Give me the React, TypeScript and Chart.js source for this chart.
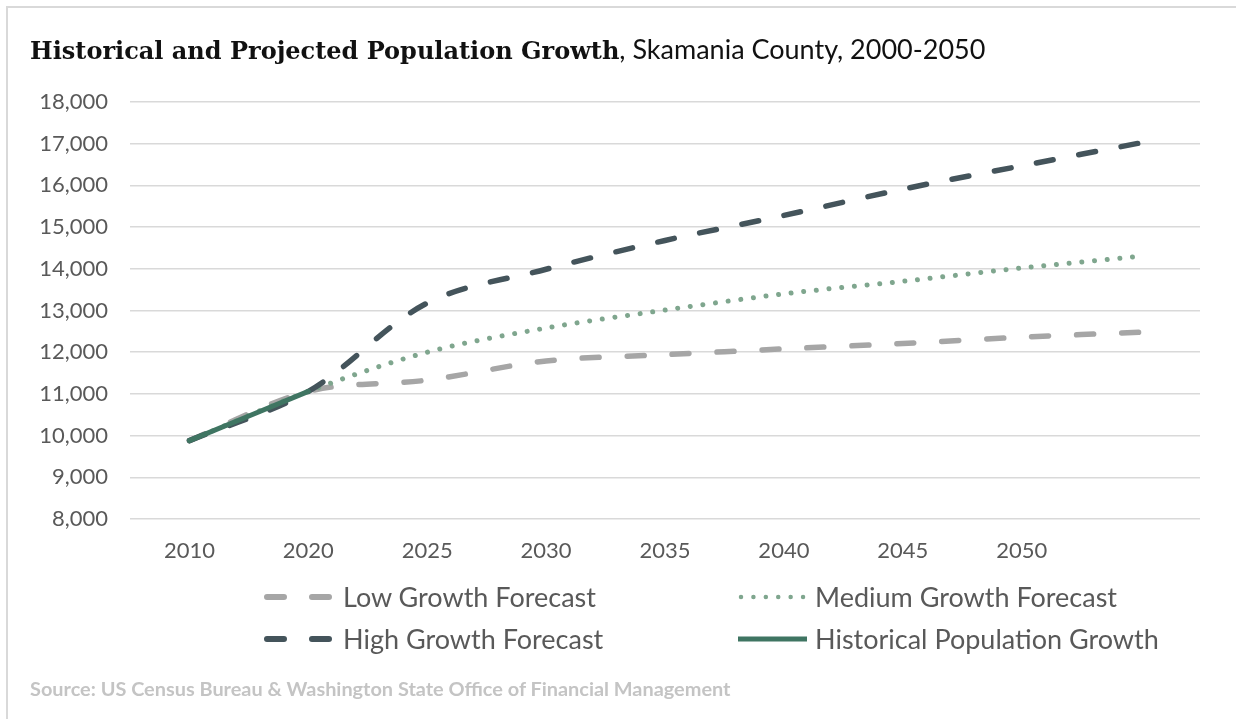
import React, { useEffect, useRef } from "react";
import { Chart, registerables } from "chart.js";

Chart.register(...registerables);

// ---- data ----
const categories = ["2010", "2020", "2025", "2030", "2035", "2040", "2045", "2050", ""];
const lowGrowth = [9880, 11060, 11330, 11790, 11940, 12080, 12210, 12360, 12480];
const mediumGrowth = [9880, 11060, 12000, 12580, 13010, 13400, 13700, 14020, 14300];
const highGrowth = [9880, 11060, 13180, 13990, 14680, 15280, 15910, 16470, 17020];
const historicalGrowth = [9880, 11060, null, null, null, null, null, null, null];
const yMin = 8000;
const yMax = 18000;
const yStep = 1000;

const seriesNames = [
  "Low Growth Forecast",
  "Medium Growth Forecast",
  "High Growth Forecast",
  "Historical Population Growth",
];

const COLORS = {
  low: "#a6a6a6",
  medium: "#7fa68e",
  high: "#44545b",
  hist: "#3f7562",
  text: "#595959",
  grid: "#d9d9d9",
};

const SANS = "Lato, 'Open Sans', sans-serif";

function LegendSymbol({ kind }: { kind: string }) {
  const w = 74;
  const h = 12;
  if (kind === "low" || kind === "high") {
    const c = kind === "low" ? COLORS.low : COLORS.high;
    return (
      <svg width={w} height={h} style={{ display: "block" }}>
        <line x1={4} y1={6} x2={70} y2={6} stroke={c} strokeWidth={6} strokeLinecap="round" strokeDasharray="17 28" />
      </svg>
    );
  }
  if (kind === "medium") {
    return (
      <svg width={w} height={h} style={{ display: "block" }}>
        <line x1={6} y1={6} x2={70} y2={6} stroke={COLORS.medium} strokeWidth={4.5} strokeLinecap="round" strokeDasharray="0.01 12.4" />
      </svg>
    );
  }
  return (
    <svg width={w} height={h} style={{ display: "block" }}>
      <line x1={3} y1={6} x2={72} y2={6} stroke={COLORS.hist} strokeWidth={5} />
    </svg>
  );
}

export default function App() {
  const canvasRef = useRef<HTMLCanvasElement | null>(null);

  useEffect(() => {
    const canvas = canvasRef.current;
    if (!canvas) return;
    const chart = new Chart(canvas, {
      type: "line",
      data: {
        labels: categories,
        datasets: [
          {
            label: seriesNames[3],
            data: historicalGrowth,
            borderColor: COLORS.hist,
            borderWidth: 5,
            pointRadius: 0,
            tension: 0.33,
            borderCapStyle: "round",
            order: 0,
          },
          {
            label: seriesNames[2],
            data: highGrowth,
            borderColor: COLORS.high,
            borderWidth: 5.5,
            borderDash: [17, 26],
            borderCapStyle: "round",
            pointRadius: 0,
            tension: 0.33,
            order: 1,
          },
          {
            label: seriesNames[1],
            data: mediumGrowth,
            borderColor: COLORS.medium,
            borderWidth: 5,
            borderDash: [0.01, 12.7],
            borderCapStyle: "round",
            pointRadius: 0,
            tension: 0.33,
            order: 2,
          },
          {
            label: seriesNames[0],
            data: lowGrowth,
            borderColor: COLORS.low,
            borderWidth: 5.5,
            borderDash: [17, 28],
            borderCapStyle: "round",
            pointRadius: 0,
            tension: 0.33,
            order: 3,
          },
        ],
      },
      options: {
        responsive: false,
        animation: false,
        devicePixelRatio: 1,
        layout: { padding: { left: 0, right: 36, top: 102, bottom: 140 } },
        plugins: {
          legend: { display: false },
          title: { display: false },
          tooltip: { enabled: false },
        },
        scales: {
          x: {
            type: "category",
            offset: true,
            grid: { display: false, drawTicks: false },
            border: { display: false },
            ticks: {
              color: COLORS.text,
              font: { family: SANS, size: 22 },
              padding: 19,
              maxRotation: 0,
              autoSkip: false,
            },
            afterFit: (scale: any) => {
              scale.height = 60;
            },
          },
          y: {
            min: yMin,
            max: yMax,
            grid: { color: COLORS.grid, lineWidth: 1.5, drawTicks: false },
            border: { display: false },
            ticks: {
              stepSize: yStep,
              color: COLORS.text,
              font: { family: SANS, size: 22 },
              padding: 22,
              callback: (v: any) => Number(v).toLocaleString("en-US"),
            },
            afterFit: (scale: any) => {
              scale.width = 130;
            },
          },
        },
      },
    });
    return () => chart.destroy();
  }, []);

  const legendText: React.CSSProperties = {
    position: "absolute",
    fontFamily: SANS,
    fontSize: 27,
    lineHeight: "27px",
    color: COLORS.text,
    whiteSpace: "nowrap",
  };

  const legendItems = [
    { kind: "low", name: seriesNames[0], x: 263, y: 597 },
    { kind: "medium", name: seriesNames[1], x: 735, y: 597 },
    { kind: "high", name: seriesNames[2], x: 263, y: 639 },
    { kind: "hist", name: seriesNames[3], x: 735, y: 639 },
  ];

  return (
    <div
      style={{
        position: "absolute",
        left: 0,
        top: 0,
        width: 1236,
        height: 719,
        overflow: "hidden",
        background: "#ffffff",
      }}
    >
      <div
        style={{
          position: "absolute",
          left: 6,
          top: 6,
          right: -10,
          bottom: -10,
          borderTop: "2px solid #d9d9d9",
          borderLeft: "2px solid #d9d9d9",
        }}
      />
      <canvas
        ref={canvasRef}
        width={1236}
        height={719}
        style={{ position: "absolute", left: 0, top: 0, width: 1236, height: 719 }}
      />
      <div
        style={{
          position: "absolute",
          left: 30,
          top: 34,
          whiteSpace: "nowrap",
          fontFamily: "'DejaVu Serif', serif",
          fontWeight: 700,
          fontSize: 24,
          lineHeight: "30px",
          color: "#111111",
        }}
      >
        <span>Historical and Projected Population Growth</span>
        <span style={{ fontFamily: SANS, fontWeight: 400, fontSize: 27, color: "#111111" }}>
          , Skamania County, 2000-2050
        </span>
      </div>
      {legendItems.map((it) => (
        <React.Fragment key={it.name}>
          <div style={{ position: "absolute", left: it.x, top: it.y - 6 }}>
            <LegendSymbol kind={it.kind} />
          </div>
          <div style={{ ...legendText, left: it.x + 80, top: it.y - 14 }}>{it.name}</div>
        </React.Fragment>
      ))}
      <div
        style={{
          position: "absolute",
          left: 30,
          top: 678,
          fontFamily: SANS,
          fontWeight: 700,
          fontSize: 19.9,
          lineHeight: "20px",
          color: "#c4c4c4",
          whiteSpace: "nowrap",
        }}
      >
        Source: US Census Bureau &amp; Washington State Office of Financial Management
      </div>
    </div>
  );
}
